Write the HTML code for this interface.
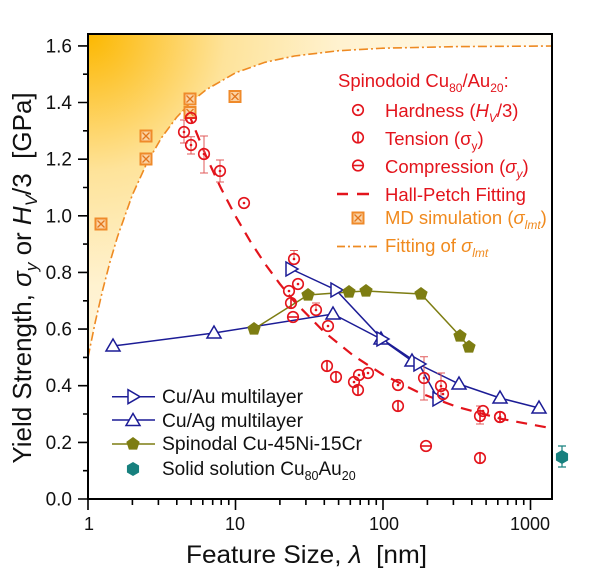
<!DOCTYPE html>
<html>
<head>
<meta charset="utf-8">
<style>
  html,body{margin:0;padding:0;background:#fff;}
  body{width:600px;height:576px;overflow:hidden;}
  svg{display:block;font-family:"Liberation Sans",Arial,sans-serif;}
</style>
</head>
<body>
<svg width="600" height="576" viewBox="0 0 600 576" xmlns="http://www.w3.org/2000/svg">
  <defs>
    <radialGradient id="gold" gradientUnits="userSpaceOnUse" cx="88" cy="34" r="460">
      <stop offset="0" stop-color="#fcb800"/>
      <stop offset="0.1" stop-color="#fdc532"/>
      <stop offset="0.3" stop-color="#fee39a"/>
      <stop offset="0.55" stop-color="#fff2d0"/>
      <stop offset="1" stop-color="#fffcf4"/>
    </radialGradient>
    <g id="hd"><circle r="5.3" fill="none" stroke="#e3141c" stroke-width="1.6"/><circle r="1.3" fill="#e3141c"/></g>
    <g id="tn"><circle r="5.3" fill="none" stroke="#e3141c" stroke-width="1.6"/><line x1="0" y1="-5.3" x2="0" y2="5.3" stroke="#e3141c" stroke-width="1.6"/></g>
    <g id="cp"><circle r="5.3" fill="none" stroke="#e3141c" stroke-width="1.6"/><line x1="-5.3" y1="0" x2="5.3" y2="0" stroke="#e3141c" stroke-width="1.6"/></g>
    <g id="md"><rect x="-5.5" y="-5.5" width="11" height="11" fill="#fbd3a4" stroke="#ef8a2a" stroke-width="2"/><path d="M-3.5,-3.5L3.5,3.5M3.5,-3.5L-3.5,3.5" stroke="#e2761e" stroke-width="1.3"/></g>
    <polygon id="tu" points="0,-7 7,5 -7,5" fill="#fff" stroke="#1c1c96" stroke-width="1.5"/>
    <polygon id="tr" points="-5,-7 7,0 -5,7" fill="#fff" stroke="#1c1c96" stroke-width="1.5"/>
    <polygon id="pg" points="0,-7 6.66,-2.16 4.11,5.66 -4.11,5.66 -6.66,-2.16" fill="#7d7d12"/>
    <polygon id="hx" points="0,-7 6.06,-3.5 6.06,3.5 0,7 -6.06,3.5 -6.06,-3.5" fill="#17807e"/>
  </defs>

  <!-- gradient fill above sigma_lmt curve -->
  <path d="M88,34 L88,357.4 L95.4,321.4 L102.75,289.7 L110.1,261.6 L117.5,236.7 L132.25,195.2 L147,162.8 L161.75,137.4 L176.5,117.5 L191.25,101.9 L206,89.8 L235.5,72.8 L265,62.3 L294.5,56 L338.75,50.7 L383,48.2 L456.75,46.6 L552,46 L552,34 Z" fill="url(#gold)"/>

  <!-- sigma_lmt fitting curve -->
  <polyline points="88,357.4 95.4,321.4 102.75,289.7 110.1,261.6 117.5,236.7 132.25,195.2 147,162.8 161.75,137.4 176.5,117.5 191.25,101.9 206,89.8 235.5,72.8 265,62.3 294.5,56 338.75,50.7 383,48.2 456.75,46.6 552,46" fill="none" stroke="#ee8a22" stroke-width="1.6" stroke-dasharray="9,3,2,3"/>

  <!-- Hall-Petch fit -->
  <polyline points="188.3,112.7 206,156 220.75,187.8 235.5,216.1 250.25,241.3 265,263.8 279.75,283.8 294.5,301.7 324,331.8 353.5,355.7 383,374.7 419.9,393 456.75,406.8 501,418.8 552,428.4" fill="none" stroke="#e3141c" stroke-width="2.2" stroke-dasharray="11,8"/>

  <!-- Cu/Ag multilayer -->
  <polyline points="113,346 214,333 333,314 381,339 412,361 459,384 500,398 539,408" fill="none" stroke="#1c1c96" stroke-width="1.5"/>
  <!-- Cu/Au multilayer -->
  <polyline points="291,269 336,290 382,339 419,364 438,399" fill="none" stroke="#1c1c96" stroke-width="1.5"/>
  <!-- Spinodal Cu-45Ni-15Cr -->
  <polyline points="254,329 308,295 349,292 366,291 421,294 460,336 469,347" fill="none" stroke="#7d7d12" stroke-width="1.5"/>

  <!-- error bars -->
  <g stroke="#e05a5a" stroke-width="1">
    <path d="M184,120V143M180,120H188M180,143H188"/>
    <path d="M191,136.7V154M187,136.7H195M187,154H195"/>
    <path d="M204,136V173M200,136H208M200,173H208"/>
    <path d="M220,160V182M216,160H224M216,182H224"/>
    <path d="M294,250.5V259M290,250.5H298"/>
    <path d="M316,303V310M312,303H320"/>
    <path d="M424,356.7V400M420,356.7H428M420,400H428"/>
    <path d="M441,373V398M437,373H445M437,398H445"/>
    <path d="M480,406V424M476,406H484M476,424H484"/>
  </g>
  <path d="M562,446V467M558,446H566M558,467H566" stroke="#17807e" stroke-width="1.2"/>

  <!-- markers: Cu/Ag -->
  <use href="#tu" x="113" y="346"/><use href="#tu" x="214" y="333"/><use href="#tu" x="333" y="314"/>
  <use href="#tu" x="381" y="339"/><use href="#tu" x="412" y="361"/><use href="#tu" x="459" y="384"/>
  <use href="#tu" x="500" y="398"/><use href="#tu" x="539" y="408"/>
  <!-- Cu/Au -->
  <use href="#tr" x="291" y="269"/><use href="#tr" x="336" y="290"/><use href="#tr" x="382" y="339"/>
  <use href="#tr" x="419" y="364"/><use href="#tr" x="438" y="399"/>
  <!-- pentagons -->
  <use href="#pg" x="254" y="329"/><use href="#pg" x="308" y="295"/><use href="#pg" x="349" y="292"/>
  <use href="#pg" x="366" y="291"/><use href="#pg" x="421" y="294"/><use href="#pg" x="460" y="336"/>
  <use href="#pg" x="469" y="347"/>
  <!-- hexagon -->
  <use href="#hx" x="562" y="457"/>

  <!-- MD simulation -->
  <use href="#md" x="101" y="224"/><use href="#md" x="146" y="136"/><use href="#md" x="146" y="159"/>
  <use href="#md" x="190" y="99"/><use href="#md" x="190" y="112.5"/><use href="#md" x="235" y="96.5"/>

  <!-- hardness -->
  <use href="#hd" x="184" y="132"/><use href="#hd" x="191" y="145"/><use href="#hd" x="204" y="154"/>
  <use href="#hd" x="220" y="171"/><use href="#hd" x="244" y="203"/><use href="#hd" x="294" y="259"/>
  <use href="#hd" x="298" y="284"/><use href="#hd" x="289" y="291"/><use href="#hd" x="316" y="310"/>
  <use href="#hd" x="328" y="326"/><use href="#hd" x="359" y="375"/><use href="#hd" x="368" y="373"/>
  <use href="#hd" x="354" y="382"/><use href="#hd" x="398" y="385"/><use href="#hd" x="424" y="378"/>
  <use href="#hd" x="441" y="386"/><use href="#hd" x="443" y="394"/><use href="#hd" x="483" y="411"/>
  <use href="#hd" x="500" y="417"/>
  <!-- tension -->
  <use href="#tn" x="291" y="303"/><use href="#tn" x="327" y="366"/><use href="#tn" x="336" y="377"/>
  <use href="#tn" x="358" y="390"/><use href="#tn" x="398" y="406"/><use href="#tn" x="480" y="458"/>
  <use href="#tn" x="480" y="416"/><use href="#tn" x="500" y="417"/>
  <!-- compression -->
  <use href="#cp" x="191" y="118"/><use href="#cp" x="293" y="317"/><use href="#cp" x="426" y="446"/>

  <!-- frame -->
  <rect x="88" y="34" width="464" height="465" fill="none" stroke="#000" stroke-width="2"/>

  <!-- y ticks -->
  <g stroke="#000" stroke-width="1.6">
    <path d="M78,499H88M78,442.4H88M78,385.7H88M78,329.1H88M78,272.4H88M78,215.8H88M78,159.2H88M78,102.5H88M78,45.9H88"/>
    <path d="M83,470.7H88M83,414H88M83,357.4H88M83,300.8H88M83,244.1H88M83,187.5H88M83,130.8H88M83,74.2H88"/>
    <!-- x ticks -->
    <path d="M88,499V510M235.5,499V510M383,499V510M530.5,499V510"/>
    <path d="M132.4,499V505M158.4,499V505M176.8,499V505M191.1,499V505M202.8,499V505M212.7,499V505M221.2,499V505M228.75,499V505
             M279.9,499V505M305.9,499V505M324.3,499V505M338.6,499V505M350.3,499V505M360.2,499V505M368.7,499V505M376.25,499V505
             M427.4,499V505M453.4,499V505M471.8,499V505M486.1,499V505M497.8,499V505M507.7,499V505M516.2,499V505M523.75,499V505"/>
  </g>

  <!-- y tick labels -->
  <g font-size="19" text-anchor="end" fill="#111">
    <text x="72" y="505.5">0.0</text>
    <text x="72" y="448.9">0.2</text>
    <text x="72" y="392.2">0.4</text>
    <text x="72" y="335.6">0.6</text>
    <text x="72" y="278.9">0.8</text>
    <text x="72" y="222.3">1.0</text>
    <text x="72" y="165.7">1.2</text>
    <text x="72" y="109">1.4</text>
    <text x="72" y="52.4">1.6</text>
  </g>
  <!-- x tick labels -->
  <g font-size="18" text-anchor="middle" fill="#111">
    <text x="89" y="530">1</text>
    <text x="235" y="530">10</text>
    <text x="384" y="530">100</text>
    <text x="530" y="530">1000</text>
  </g>

  <!-- axis labels -->
  <text x="306.5" y="563" font-size="25" text-anchor="middle" fill="#111" textLength="241" lengthAdjust="spacingAndGlyphs">Feature Size, <tspan font-style="italic">λ</tspan>&#160; [nm]</text>
  <text transform="translate(31,278) rotate(-90)" font-size="26" text-anchor="middle" fill="#111">Yield Strength, <tspan font-style="italic">σ</tspan><tspan font-style="italic" font-size="17" dy="6">y</tspan><tspan dy="-6"> or </tspan><tspan font-style="italic">H</tspan><tspan font-style="italic" font-size="17" dy="6">V</tspan><tspan dy="-6">/3&#160; [GPa]</tspan></text>

  <!-- top-right legend -->
  <g font-size="18.5" fill="#e3141c">
    <text x="338" y="87">Spinodoid Cu<tspan font-size="12" dy="5">80</tspan><tspan dy="-5">/Au</tspan><tspan font-size="12" dy="5">20</tspan><tspan dy="-5">:</tspan></text>
    <text x="385" y="117">Hardness (<tspan font-style="italic">H</tspan><tspan font-style="italic" font-size="12" dy="5">V</tspan><tspan dy="-5">/3)</tspan></text>
    <text x="385" y="145">Tension (σ<tspan font-size="12" dy="5">y</tspan><tspan dy="-5">)</tspan></text>
    <text x="385" y="173">Compression (<tspan font-style="italic">σ</tspan><tspan font-style="italic" font-size="12" dy="5">y</tspan><tspan dy="-5">)</tspan></text>
    <text x="385" y="201">Hall-Petch Fitting</text>
  </g>
  <g font-size="18.5" fill="#f08a1e">
    <text x="385" y="224">MD simulation (<tspan font-style="italic">σ</tspan><tspan font-style="italic" font-size="12" dy="5">lmt</tspan><tspan dy="-5">)</tspan></text>
    <text x="385" y="252">Fitting of <tspan font-style="italic">σ</tspan><tspan font-style="italic" font-size="12" dy="5">lmt</tspan></text>
  </g>
  <use href="#hd" x="358" y="110"/>
  <use href="#tn" x="358" y="137.5"/>
  <use href="#cp" x="358" y="165.5"/>
  <path d="M337,194H348M357,194H369" stroke="#e3141c" stroke-width="2.4"/>
  <use href="#md" x="358" y="218"/>
  <line x1="337" y1="246.5" x2="380" y2="246.5" stroke="#ee8a22" stroke-width="1.8" stroke-dasharray="8,3,2,3"/>

  <!-- bottom-left legend -->
  <line x1="112" y1="396.7" x2="155" y2="396.7" stroke="#1c1c96" stroke-width="1.5"/>
  <use href="#tr" x="133" y="396.7"/>
  <line x1="112" y1="420" x2="155" y2="420" stroke="#1c1c96" stroke-width="1.5"/>
  <use href="#tu" x="133" y="420.5"/>
  <line x1="112" y1="444" x2="155" y2="444" stroke="#7d7d12" stroke-width="1.5"/>
  <use href="#pg" x="133" y="444"/>
  <use href="#hx" x="133" y="469"/>
  <g font-size="19" fill="#111">
    <text x="162" y="403" textLength="141" lengthAdjust="spacingAndGlyphs">Cu/Au multilayer</text>
    <text x="162" y="427" textLength="141" lengthAdjust="spacingAndGlyphs">Cu/Ag multilayer</text>
    <text x="162" y="450" textLength="200" lengthAdjust="spacingAndGlyphs">Spinodal Cu-45Ni-15Cr</text>
    <text x="162" y="475">Solid solution Cu<tspan font-size="12.5" dy="5">80</tspan><tspan dy="-5">Au</tspan><tspan font-size="12.5" dy="5">20</tspan></text>
  </g>
</svg>
</body>
</html>
